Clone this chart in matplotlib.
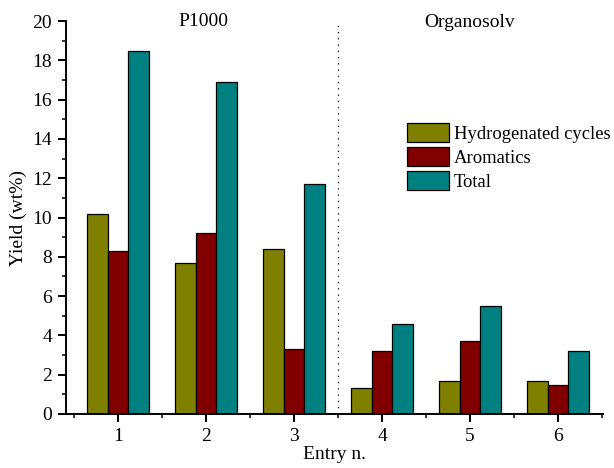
import numpy as np
import matplotlib.pyplot as plt
from matplotlib.ticker import MultipleLocator, FixedLocator

plt.rcParams['font.family'] = ['Liberation Serif', 'DejaVu Serif']
plt.rcParams['font.size'] = 14

entries = [1, 2, 3, 4, 5, 6]
hydrogenated = [10.2, 7.7, 8.4, 1.3, 1.7, 1.7]
aromatics = [8.3, 9.2, 3.3, 3.2, 3.7, 1.5]
total = [18.5, 16.9, 11.7, 4.6, 5.5, 3.2]
labels = ['Hydrogenated cycles', 'Aromatics', 'Total']
colors = ['#808000', '#800000', '#008080']

x = np.array(entries)
w = 0.233

fig = plt.figure(figsize=(6.14, 4.68), dpi=100)
ax = fig.add_axes([0.1075, 0.1154, 0.8745, 0.8396])

for i, (vals, lab, c) in enumerate(zip([hydrogenated, aromatics, total], labels, colors)):
    ax.bar(x + (i - 1) * w, vals, w, color=c, edgecolor='black', linewidth=0.9, label=lab)

# separator between the two feedstocks
ax.axvline(3.5, ymax=0.992, color='black', linestyle=(0, (1, 4)), linewidth=0.9)
ax.text(1.97, 20, 'P1000', ha='center', va='center')
ax.text(5.0, 19.95, 'Organosolv', ha='center', va='center')

ax.set_xlim(0.41, 6.51)
ax.set_ylim(0, 20)
ax.set_xticks(entries)
ax.xaxis.set_minor_locator(FixedLocator(np.arange(0.5, 7, 1)))
ax.yaxis.set_major_locator(MultipleLocator(2))
ax.yaxis.set_minor_locator(MultipleLocator(1))
ax.tick_params(which='major', direction='out', length=6, width=1.4, pad=4)
ax.tick_params(which='minor', direction='out', length=3, width=1.1)
for s in ['top', 'right']:
    ax.spines[s].set_visible(False)
for s in ['left', 'bottom']:
    ax.spines[s].set_linewidth(1.4)

ax.set_xlabel('Entry n.', labelpad=1)
ax.set_ylabel('Yield (wt%)', labelpad=4)

ax.legend(loc='upper left', bbox_to_anchor=(0.663, 0.737), bbox_transform=fig.transFigure,
          frameon=False, handlelength=2.25, handleheight=1.15, handletextpad=0.27,
          labelspacing=0.25, borderpad=0.0, borderaxespad=0.0, fontsize=13.4)

fig.savefig('out.png', dpi=100)
